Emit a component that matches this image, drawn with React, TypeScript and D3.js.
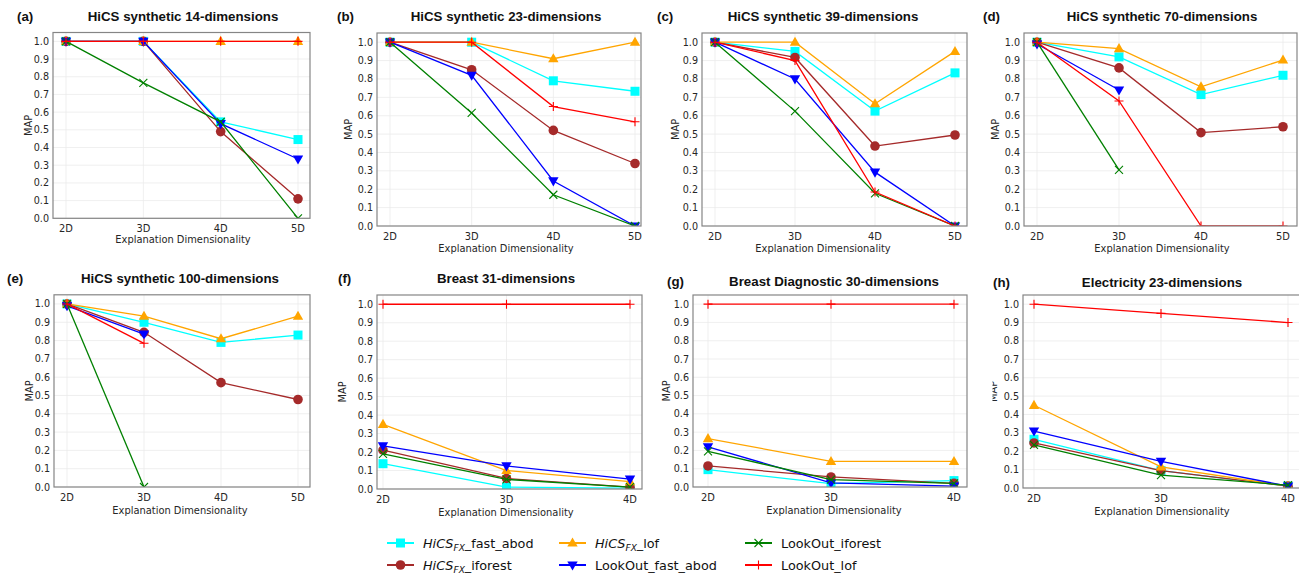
import * as d3 from 'd3';

// ---- Data ------------------------------------------------------------------
const SERIES = [
  'HiCS_FX_fast_abod',
  'HiCS_FX_iforest',
  'HiCS_FX_lof',
  'LookOut_fast_abod',
  'LookOut_iforest',
  'LookOut_lof',
];
const COLORS = ['#00ffff', '#a52a2a', '#ffa500', '#0000ff', '#008000', '#ff0000'];
const MARKERS = ['square', 'circle', 'triangleUp', 'triangleDown', 'x', 'plus'];

const SYNTH_DIMS = ['2D', '3D', '4D', '5D'];
const REAL_DIMS = ['2D', '3D', '4D'];
const Y_TICKS = [0, 0.1, 0.2, 0.3, 0.4, 0.5, 0.6, 0.7, 0.8, 0.9, 1.0];

type Row = (number | null)[];

// rows follow SERIES order
const HICS_14: Row[] = [
  [1, 1, 0.545, 0.445],
  [1, 1, 0.49, 0.11],
  [1, 1, 1, 1],
  [1, 1, 0.535, 0.335],
  [1, 0.765, 0.545, 0.0],
  [1, 1, 1, 1],
];
const HICS_23: Row[] = [
  [1, 1, 0.79, 0.733],
  [1, 0.85, 0.52, 0.34],
  [1, 1, 0.91, 1],
  [1, 0.82, 0.245, 0.0],
  [1, 0.615, 0.17, 0.0],
  [1, 1, 0.65, 0.567],
];
const HICS_39: Row[] = [
  [1, 0.95, 0.625, 0.833],
  [1, 0.917, 0.435, 0.495],
  [1, 1, 0.665, 0.95],
  [1, 0.8, 0.293, 0.0],
  [1, 0.625, 0.178, 0.0],
  [1, 0.9, 0.185, 0.0],
];
const HICS_70: Row[] = [
  [1, 0.92, 0.715, 0.82],
  [1, 0.86, 0.508, 0.54],
  [1, 0.965, 0.757, 0.903],
  [0.99, 0.74, null, null],
  [1, 0.305, null, null],
  [1, 0.68, 0, 0],
];
const HICS_100: Row[] = [
  [1, 0.9, 0.79, 0.83],
  [1, 0.845, 0.57, 0.478],
  [1, 0.933, 0.81, 0.933],
  [0.99, 0.835, null, null],
  [1, 0, null, null],
  [1, 0.785, null, null],
];
const BREAST_31: Row[] = [
  [0.137, 0.01, 0.005],
  [0.21, 0.057, 0.01],
  [0.35, 0.1, 0.04],
  [0.233, 0.125, 0.053],
  [0.19, 0.052, 0.01],
  [1, 1, 1],
];
const BREAST_DIAG_30: Row[] = [
  [0.095, 0.018, 0.035],
  [0.115, 0.055, 0.02],
  [0.265, 0.14, 0.14],
  [0.22, 0.022, 0.005],
  [0.195, 0.04, 0.02],
  [1, 1, 1],
];
const ELECTRICITY_23: Row[] = [
  [0.265, 0.095, 0.01],
  [0.245, 0.095, 0.01],
  [0.45, 0.115, 0.01],
  [0.31, 0.145, 0.01],
  [0.235, 0.07, 0.015],
  [1, 0.95, 0.9],
];

const PANELS = [
  { tag: '(a)', title: 'HiCS synthetic 14-dimensions', dims: SYNTH_DIMS, values: HICS_14 },
  { tag: '(b)', title: 'HiCS synthetic 23-dimensions', dims: SYNTH_DIMS, values: HICS_23 },
  { tag: '(c)', title: 'HiCS synthetic 39-dimensions', dims: SYNTH_DIMS, values: HICS_39 },
  { tag: '(d)', title: 'HiCS synthetic 70-dimensions', dims: SYNTH_DIMS, values: HICS_70 },
  { tag: '(e)', title: 'HiCS synthetic 100-dimensions', dims: SYNTH_DIMS, values: HICS_100 },
  { tag: '(f)', title: 'Breast 31-dimensions', dims: REAL_DIMS, values: BREAST_31 },
  { tag: '(g)', title: 'Breast Diagnostic 30-dimensions', dims: REAL_DIMS, values: BREAST_DIAG_30 },
  { tag: '(h)', title: 'Electricity 23-dimensions', dims: REAL_DIMS, values: ELECTRICITY_23 },
];

// ---- Layout (pixel boxes of each sub-figure) --------------------------------
const LAYOUT = [
  { left: 53, right: 310, top: 32.5, bottom: 218.3, x0: 66, x1: 298, titleX: 183, tagX: 17, titleY: 21, yLabelX: 28, xLabelY: 243 },
  { left: 377, right: 641, top: 33, bottom: 226, x0: 390, x1: 635, titleX: 506, tagX: 337, titleY: 21, yLabelX: 348, xLabelY: 252 },
  { left: 702, right: 967, top: 33, bottom: 226, x0: 715, x1: 955, titleX: 823, tagX: 657, titleY: 21, yLabelX: 675, xLabelY: 252 },
  { left: 1024, right: 1297, top: 33, bottom: 226, x0: 1037, x1: 1283, titleX: 1162, tagX: 983, titleY: 21, yLabelX: 995, xLabelY: 252 },
  { left: 54, right: 310, top: 294.8, bottom: 487, x0: 67, x1: 298, titleX: 180, tagX: 7, titleY: 283, yLabelX: 29, xLabelY: 514 },
  { left: 377, right: 642, top: 295, bottom: 489, x0: 383, x1: 630, titleX: 506, tagX: 338, titleY: 283, yLabelX: 342, xLabelY: 516 },
  { left: 693, right: 967, top: 295, bottom: 487, x0: 708, x1: 954, titleX: 834, tagX: 667, titleY: 286, yLabelX: 666, xLabelY: 514 },
  { left: 1023, right: 1305, top: 295, bottom: 488, x0: 1034, x1: 1288, titleX: 1162, tagX: 993, titleY: 287, yLabelX: 993, xLabelY: 515 },
];

const W = 1299;
const H = 574;
const TICK_FONT = 'DejaVu Sans, sans-serif';
const TITLE_FONT = 'Liberation Sans, Arial, sans-serif';
const TEXT_COLOR = '#262626';

function Marker({ kind, x, y, color }: { kind: string; x: number; y: number; color: string }) {
  switch (kind) {
    case 'square':
      return <rect x={x - 4.5} y={y - 4.5} width={9} height={9} fill={color} />;
    case 'circle':
      return <circle cx={x} cy={y} r={4.8} fill={color} />;
    case 'triangleUp':
      return <path d={`M${x},${y - 5.5}L${x + 5.2},${y + 3.6}L${x - 5.2},${y + 3.6}Z`} fill={color} />;
    case 'triangleDown':
      return <path d={`M${x},${y + 5.5}L${x + 5.2},${y - 3.6}L${x - 5.2},${y - 3.6}Z`} fill={color} />;
    case 'x':
      return (
        <path
          d={`M${x - 4},${y - 4}L${x + 4},${y + 4}M${x - 4},${y + 4}L${x + 4},${y - 4}`}
          stroke={color}
          strokeWidth={1.1}
          fill="none"
        />
      );
    default:
      return (
        <path
          d={`M${x - 4.5},${y}L${x + 4.5},${y}M${x},${y - 4.5}L${x},${y + 4.5}`}
          stroke={color}
          strokeWidth={1.1}
          fill="none"
        />
      );
  }
}

function Panel({ idx }: { idx: number }) {
  const panel = PANELS[idx];
  const box = LAYOUT[idx];
  const n = panel.dims.length;
  const x = d3.scaleLinear().domain([0, n - 1]).range([box.x0, box.x1]);
  const y = d3.scaleLinear().domain([0, 1.05]).range([box.bottom, box.top]);
  const line = d3
    .line<number | null>()
    .defined((v) => v != null)
    .x((_, i) => x(i))
    .y((v) => y(v as number));
  const clipId = `clip-${idx}`;
  const yMid = (box.top + box.bottom) / 2;

  return (
    <g>
      <defs>
        <clipPath id={clipId}>
          <rect x={box.left} y={box.top} width={box.right - box.left} height={box.bottom - box.top} />
        </clipPath>
        {idx === 7 && (
          <clipPath id="ylab-clip-h">
            <rect x={992.5} y={box.top} width={30} height={box.bottom - box.top} />
          </clipPath>
        )}
      </defs>

      {/* grid */}
      {Y_TICKS.map((t) => (
        <line key={`gy${t}`} x1={box.left} x2={box.right} y1={y(t)} y2={y(t)} stroke="#ebebeb" strokeWidth={0.8} />
      ))}
      {panel.dims.map((d, i) => (
        <line key={`gx${d}`} x1={x(i)} x2={x(i)} y1={box.top} y2={box.bottom} stroke="#ebebeb" strokeWidth={0.8} />
      ))}

      {/* series */}
      <g clipPath={`url(#${clipId})`}>
        {panel.values.map((row, s) => (
          <g key={SERIES[s]}>
            <path d={line(row) ?? ''} fill="none" stroke={COLORS[s]} strokeWidth={1.3} />
            {row.map((v, i) =>
              v == null ? null : <Marker key={i} kind={MARKERS[s]} x={x(i)} y={y(v)} color={COLORS[s]} />,
            )}
          </g>
        ))}
      </g>

      {/* frame */}
      <rect
        x={box.left}
        y={box.top}
        width={box.right - box.left}
        height={box.bottom - box.top}
        fill="none"
        stroke="#858585"
        strokeWidth={1.2}
      />

      {/* y ticks */}
      {Y_TICKS.map((t) => (
        <text
          key={`ty${t}`}
          x={box.left - 4}
          y={y(t) + 3.5}
          textAnchor="end"
          fontFamily={TICK_FONT}
          fontSize={9.6}
          fill={TEXT_COLOR}
        >
          {t.toFixed(1)}
        </text>
      ))}
      {/* x ticks */}
      {panel.dims.map((d, i) => (
        <text
          key={`tx${d}`}
          x={x(i)}
          y={box.bottom + 13.5}
          textAnchor="middle"
          fontFamily={TICK_FONT}
          fontSize={9.9}
          fill={TEXT_COLOR}
        >
          {d}
        </text>
      ))}

      <text
        x={box.titleX}
        y={box.xLabelY}
        textAnchor="middle"
        fontFamily={TICK_FONT}
        fontSize={9.9}
        fill={TEXT_COLOR}
      >
        Explanation Dimensionality
      </text>
      <g clipPath={idx === 7 ? 'url(#ylab-clip-h)' : undefined}>
        <text
          transform={`translate(${box.yLabelX + 3.5}, ${yMid}) rotate(-90)`}
          textAnchor="middle"
          fontFamily={TICK_FONT}
          fontSize={9.9}
          fill={TEXT_COLOR}
        >
          MAP
        </text>
      </g>

      <text x={box.titleX} y={box.titleY} textAnchor="middle" fontFamily={TITLE_FONT} fontWeight="bold" fontSize={13.3} fill="#111">
        {panel.title}
      </text>
      <text x={box.tagX} y={box.titleY} fontFamily={TITLE_FONT} fontWeight="bold" fontSize={13.3} fill="#111">
        {panel.tag}
      </text>
    </g>
  );
}

function SeriesLabel({ name, x, y }: { name: string; x: number; y: number }) {
  if (name.startsWith('HiCS_FX')) {
    return (
      <text x={x} y={y} fontFamily={TICK_FONT} fontSize={12.8} fill="#111">
        <tspan fontStyle="italic">HiCS</tspan>
        <tspan fontStyle="italic" fontSize={9} dy={3}>
          FX
        </tspan>
        <tspan dy={-3}>{name.slice('HiCS_FX'.length)}</tspan>
      </text>
    );
  }
  return (
    <text x={x} y={y} fontFamily={TICK_FONT} fontSize={12.8} fill="#111">
      {name}
    </text>
  );
}

function Legend() {
  const colX = [387, 559, 745];
  const rowY = [543, 565];
  return (
    <g>
      {SERIES.map((name, s) => {
        const cx = colX[Math.floor(s / 2)];
        const cy = rowY[s % 2];
        return (
          <g key={name}>
            <line x1={cx} x2={cx + 27} y1={cy} y2={cy} stroke={COLORS[s]} strokeWidth={2} />
            <Marker kind={MARKERS[s]} x={cx + 13.5} y={cy} color={COLORS[s]} />
            <SeriesLabel name={name} x={cx + 36} y={cy + 4.6} />
          </g>
        );
      })}
    </g>
  );
}

export default function App() {
  return (
    <svg
      width={W}
      height={H}
      viewBox={`0 0 ${W} ${H}`}
      style={{ position: 'absolute', left: 0, top: 0, background: '#fff' }}
    >
      <rect x={0} y={0} width={W} height={H} fill="#fff" />
      {PANELS.map((_, i) => (
        <Panel key={i} idx={i} />
      ))}
      <Legend />
    </svg>
  );
}
